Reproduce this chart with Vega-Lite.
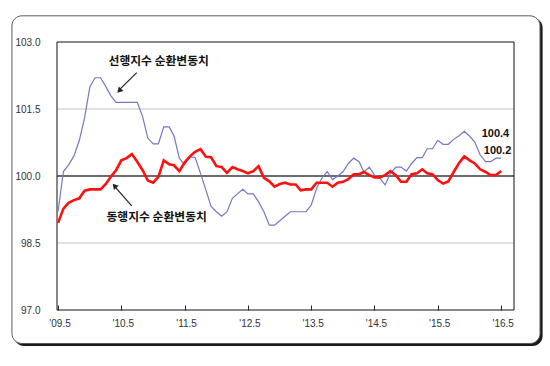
{
  "$schema": "https://vega.github.io/schema/vega-lite/v6.json",
  "width": 457,
  "height": 268,
  "autosize": {"type": "none"},
  "padding": {"left": 57, "top": 42, "right": 36, "bottom": 56},
  "background": "#ffffff",
  "config": {"view": {"stroke": null}},
  "datasets": {
    "one": [{}],
    "lead": [
      {"d":"2009-05-01","v":99.2},{"d":"2009-06-01","v":100.1},{"d":"2009-07-01","v":100.25},{"d":"2009-08-01","v":100.45},{"d":"2009-09-01","v":100.8},{"d":"2009-10-01","v":101.3},{"d":"2009-11-01","v":102.0},{"d":"2009-12-01","v":102.2},
      {"d":"2010-01-01","v":102.2},{"d":"2010-02-01","v":102.0},{"d":"2010-03-01","v":101.8},{"d":"2010-04-01","v":101.65},{"d":"2010-05-01","v":101.65},{"d":"2010-06-01","v":101.65},{"d":"2010-07-01","v":101.65},{"d":"2010-08-01","v":101.65},{"d":"2010-09-01","v":101.33},{"d":"2010-10-01","v":100.85},{"d":"2010-11-01","v":100.72},{"d":"2010-12-01","v":100.72},
      {"d":"2011-01-01","v":101.1},{"d":"2011-02-01","v":101.1},{"d":"2011-03-01","v":100.9},{"d":"2011-04-01","v":100.4},{"d":"2011-05-01","v":100.25},{"d":"2011-06-01","v":100.43},{"d":"2011-07-01","v":100.42},{"d":"2011-08-01","v":100.06},{"d":"2011-09-01","v":99.69},{"d":"2011-10-01","v":99.32},{"d":"2011-11-01","v":99.2},{"d":"2011-12-01","v":99.1},
      {"d":"2012-01-01","v":99.2},{"d":"2012-02-01","v":99.5},{"d":"2012-03-01","v":99.6},{"d":"2012-04-01","v":99.7},{"d":"2012-05-01","v":99.6},{"d":"2012-06-01","v":99.6},{"d":"2012-07-01","v":99.42},{"d":"2012-08-01","v":99.2},{"d":"2012-09-01","v":98.9},{"d":"2012-10-01","v":98.9},{"d":"2012-11-01","v":99.0},{"d":"2012-12-01","v":99.1},
      {"d":"2013-01-01","v":99.2},{"d":"2013-02-01","v":99.2},{"d":"2013-03-01","v":99.2},{"d":"2013-04-01","v":99.2},{"d":"2013-05-01","v":99.35},{"d":"2013-06-01","v":99.72},{"d":"2013-07-01","v":99.95},{"d":"2013-08-01","v":100.1},{"d":"2013-09-01","v":99.92},{"d":"2013-10-01","v":100.0},{"d":"2013-11-01","v":100.1},{"d":"2013-12-01","v":100.28},
      {"d":"2014-01-01","v":100.4},{"d":"2014-02-01","v":100.32},{"d":"2014-03-01","v":100.09},{"d":"2014-04-01","v":100.2},{"d":"2014-05-01","v":100.02},{"d":"2014-06-01","v":99.95},{"d":"2014-07-01","v":99.8},{"d":"2014-08-01","v":100.06},{"d":"2014-09-01","v":100.2},{"d":"2014-10-01","v":100.2},{"d":"2014-11-01","v":100.11},{"d":"2014-12-01","v":100.28},
      {"d":"2015-01-01","v":100.41},{"d":"2015-02-01","v":100.41},{"d":"2015-03-01","v":100.61},{"d":"2015-04-01","v":100.61},{"d":"2015-05-01","v":100.8},{"d":"2015-06-01","v":100.71},{"d":"2015-07-01","v":100.71},{"d":"2015-08-01","v":100.82},{"d":"2015-09-01","v":100.9},{"d":"2015-10-01","v":101.0},{"d":"2015-11-01","v":100.89},{"d":"2015-12-01","v":100.76},
      {"d":"2016-01-01","v":100.47},{"d":"2016-02-01","v":100.32},{"d":"2016-03-01","v":100.32},{"d":"2016-04-01","v":100.4},{"d":"2016-05-01","v":100.4}
    ],
    "coin": [
      {"d":"2009-05-01","v":98.95},{"d":"2009-06-01","v":99.27},{"d":"2009-07-01","v":99.4},{"d":"2009-08-01","v":99.46},{"d":"2009-09-01","v":99.5},{"d":"2009-10-01","v":99.67},{"d":"2009-11-01","v":99.7},{"d":"2009-12-01","v":99.7},
      {"d":"2010-01-01","v":99.7},{"d":"2010-02-01","v":99.82},{"d":"2010-03-01","v":99.98},{"d":"2010-04-01","v":100.13},{"d":"2010-05-01","v":100.35},{"d":"2010-06-01","v":100.4},{"d":"2010-07-01","v":100.49},{"d":"2010-08-01","v":100.32},{"d":"2010-09-01","v":100.13},{"d":"2010-10-01","v":99.9},{"d":"2010-11-01","v":99.85},{"d":"2010-12-01","v":99.98},
      {"d":"2011-01-01","v":100.35},{"d":"2011-02-01","v":100.26},{"d":"2011-03-01","v":100.24},{"d":"2011-04-01","v":100.11},{"d":"2011-05-01","v":100.3},{"d":"2011-06-01","v":100.44},{"d":"2011-07-01","v":100.54},{"d":"2011-08-01","v":100.6},{"d":"2011-09-01","v":100.43},{"d":"2011-10-01","v":100.42},{"d":"2011-11-01","v":100.22},{"d":"2011-12-01","v":100.2},
      {"d":"2012-01-01","v":100.07},{"d":"2012-02-01","v":100.2},{"d":"2012-03-01","v":100.15},{"d":"2012-04-01","v":100.11},{"d":"2012-05-01","v":100.06},{"d":"2012-06-01","v":100.11},{"d":"2012-07-01","v":100.22},{"d":"2012-08-01","v":99.96},{"d":"2012-09-01","v":99.88},{"d":"2012-10-01","v":99.76},{"d":"2012-11-01","v":99.82},{"d":"2012-12-01","v":99.85},
      {"d":"2013-01-01","v":99.81},{"d":"2013-02-01","v":99.81},{"d":"2013-03-01","v":99.68},{"d":"2013-04-01","v":99.7},{"d":"2013-05-01","v":99.7},{"d":"2013-06-01","v":99.85},{"d":"2013-07-01","v":99.85},{"d":"2013-08-01","v":99.85},{"d":"2013-09-01","v":99.76},{"d":"2013-10-01","v":99.85},{"d":"2013-11-01","v":99.87},{"d":"2013-12-01","v":99.93},
      {"d":"2014-01-01","v":100.04},{"d":"2014-02-01","v":100.04},{"d":"2014-03-01","v":100.09},{"d":"2014-04-01","v":100.02},{"d":"2014-05-01","v":99.97},{"d":"2014-06-01","v":99.97},{"d":"2014-07-01","v":100.02},{"d":"2014-08-01","v":100.11},{"d":"2014-09-01","v":100.02},{"d":"2014-10-01","v":99.87},{"d":"2014-11-01","v":99.87},{"d":"2014-12-01","v":100.04},
      {"d":"2015-01-01","v":100.06},{"d":"2015-02-01","v":100.15},{"d":"2015-03-01","v":100.06},{"d":"2015-04-01","v":100.04},{"d":"2015-05-01","v":99.91},{"d":"2015-06-01","v":99.83},{"d":"2015-07-01","v":99.88},{"d":"2015-08-01","v":100.09},{"d":"2015-09-01","v":100.29},{"d":"2015-10-01","v":100.44},{"d":"2015-11-01","v":100.35},{"d":"2015-12-01","v":100.28},
      {"d":"2016-01-01","v":100.15},{"d":"2016-02-01","v":100.09},{"d":"2016-03-01","v":100.02},{"d":"2016-04-01","v":100.02},{"d":"2016-05-01","v":100.11}
    ],
    "grid": [{"g": 98.5}, {"g": 101.5}],
    "base": [{"g": 100.0}],
    "seriesLabels": [
      {"d": "2010-12-03", "v": 102.58, "t": "선행지수 순환변동치"},
      {"d": "2010-11-21", "v": 99.085, "t": "동행지수 순환변동치"}
    ],
    "lastLabels": [
      {"d": "2016-03-29", "v": 100.946, "t": "100.4"},
      {"d": "2016-04-10", "v": 100.56, "t": "100.2"}
    ]
  },
  "layer": [
    {
      "data": {"name": "lead"},
      "mark": {"type": "line", "color": "#7478c0", "strokeWidth": 1.2, "opacity": 0},
      "encoding": {
        "x": {"field": "d", "type": "temporal",
              "scale": {"type": "utc", "domain": [{"year": 2009, "month": 4, "date": 25, "utc": true}, {"year": 2016, "month": 7, "date": 14, "utc": true}]},
              "axis": {"title": null, "zindex": 1, "domain": false, "grid": false, "ticks": true, "tickSize": -5, "tickColor": "#222",
                       "values": [{"year": 2009, "month": 5, "date": 1, "utc": true}, {"year": 2010, "month": 5, "date": 1, "utc": true}, {"year": 2011, "month": 5, "date": 1, "utc": true}, {"year": 2012, "month": 5, "date": 1, "utc": true}, {"year": 2013, "month": 5, "date": 1, "utc": true}, {"year": 2014, "month": 5, "date": 1, "utc": true}, {"year": 2015, "month": 5, "date": 1, "utc": true}, {"year": 2016, "month": 5, "date": 1, "utc": true}],
                       "format": "'%y.%-m", "labelFont": "Liberation Sans", "labelFontSize": 10, "labelColor": "#333", "labelPadding": 13, "labelOffset": 1.5, "labelFlush": false, "labelOverlap": false}},
        "y": {"field": "v", "type": "quantitative",
              "scale": {"domain": [97, 103]},
              "axis": {"title": null, "zindex": 1, "domain": false, "grid": false, "ticks": false,
                       "values": [97, 98.5, 100, 101.5, 103], "format": ".1f",
                       "labelFont": "Liberation Sans", "labelFontSize": 10, "labelColor": "#333", "labelPadding": 17, "labelOverlap": false}}
      }
    },
    {
      "data": {"name": "one"},
      "mark": {"type": "rect", "fill": "#1a1a1a", "cornerRadius": 10},
      "encoding": {
        "x": {"datum": {"year": 2008, "month": 8, "date": 20, "utc": true}, "type": "temporal"},
        "x2": {"datum": {"year": 2016, "month": 12, "date": 26, "utc": true}},
        "y": {"datum": 103.541, "type": "quantitative"},
        "y2": {"datum": 96.194}
      }
    },
    {
      "data": {"name": "one"},
      "mark": {"type": "rect", "fill": "#ffffff", "stroke": "#5a5a5a", "strokeWidth": 1, "cornerRadius": 10},
      "encoding": {
        "x": {"datum": {"year": 2008, "month": 8, "date": 8, "utc": true}, "type": "temporal"},
        "x2": {"datum": {"year": 2016, "month": 12, "date": 11, "utc": true}},
        "y": {"datum": 103.586, "type": "quantitative"},
        "y2": {"datum": 96.25}
      }
    },
    {
      "data": {"name": "grid"},
      "mark": {"type": "rule", "color": "#c4c4c4", "strokeWidth": 1},
      "encoding": {"y": {"field": "g", "type": "quantitative"}}
    },
    {
      "data": {"name": "base"},
      "mark": {"type": "rule", "color": "#3a3a3a", "strokeWidth": 1.6},
      "encoding": {"y": {"field": "g", "type": "quantitative"}}
    },
    {
      "data": {"name": "one"},
      "mark": {"type": "rect", "fill": null, "fillOpacity": 0, "stroke": "#111111", "strokeWidth": 1},
      "encoding": {
        "x": {"datum": {"year": 2009, "month": 4, "date": 25, "utc": true}, "type": "temporal"},
        "x2": {"datum": {"year": 2016, "month": 7, "date": 14, "utc": true}},
        "y": {"datum": 103, "type": "quantitative"},
        "y2": {"datum": 97}
      }
    },
    {
      "data": {"name": "lead"},
      "mark": {"type": "line", "color": "#7478c0", "strokeWidth": 1.2},
      "encoding": {
        "x": {"field": "d", "type": "temporal"},
        "y": {"field": "v", "type": "quantitative"}
      }
    },
    {
      "data": {"name": "coin"},
      "mark": {"type": "line", "color": "#ff1010", "strokeWidth": 2.6},
      "encoding": {
        "x": {"field": "d", "type": "temporal"},
        "y": {"field": "v", "type": "quantitative"}
      }
    },
    {
      "data": {"name": "seriesLabels"},
      "mark": {"type": "text", "font": "Noto Sans CJK KR", "fontWeight": "bold", "fontSize": 11.8, "color": "#111", "align": "center", "baseline": "middle"},
      "encoding": {
        "x": {"field": "d", "type": "temporal"},
        "y": {"field": "v", "type": "quantitative"},
        "text": {"field": "t"}
      }
    },
    {
      "data": {"name": "lastLabels"},
      "mark": {"type": "text", "font": "Liberation Sans", "fontWeight": "bold", "fontSize": 11, "color": "#111", "align": "center", "baseline": "middle"},
      "encoding": {
        "x": {"field": "d", "type": "temporal"},
        "y": {"field": "v", "type": "quantitative"},
        "text": {"field": "t"}
      }
    },
    {
      "data": {"name": "one"},
      "mark": {"type": "rule", "color": "#222", "strokeWidth": 1.2},
      "encoding": {
        "x": {"datum": {"year": 2010, "month": 7, "date": 29, "utc": true}, "type": "temporal"},
        "x2": {"datum": {"year": 2010, "month": 4, "date": 12, "utc": true}},
        "y": {"datum": 102.315, "type": "quantitative"},
        "y2": {"datum": 101.9}
      }
    },
    {
      "data": {"name": "one"},
      "mark": {"type": "point", "shape": "triangle-up", "filled": true, "color": "#222", "size": 40, "opacity": 1, "angle": 223.5},
      "encoding": {
        "x": {"datum": {"year": 2010, "month": 4, "date": 19, "utc": true}, "type": "temporal"},
        "y": {"datum": 101.91, "type": "quantitative"}
      }
    },
    {
      "data": {"name": "one"},
      "mark": {"type": "rule", "color": "#222", "strokeWidth": 1.2},
      "encoding": {
        "x": {"datum": {"year": 2010, "month": 6, "date": 30, "utc": true}, "type": "temporal"},
        "x2": {"datum": {"year": 2010, "month": 3, "date": 16, "utc": true}},
        "y": {"datum": 99.33, "type": "quantitative"},
        "y2": {"datum": 99.8}
      }
    },
    {
      "data": {"name": "one"},
      "mark": {"type": "point", "shape": "triangle-up", "filled": true, "color": "#222", "size": 40, "opacity": 1, "angle": 319.7},
      "encoding": {
        "x": {"datum": {"year": 2010, "month": 3, "date": 23, "utc": true}, "type": "temporal"},
        "y": {"datum": 99.78, "type": "quantitative"}
      }
    }
  ]
}
